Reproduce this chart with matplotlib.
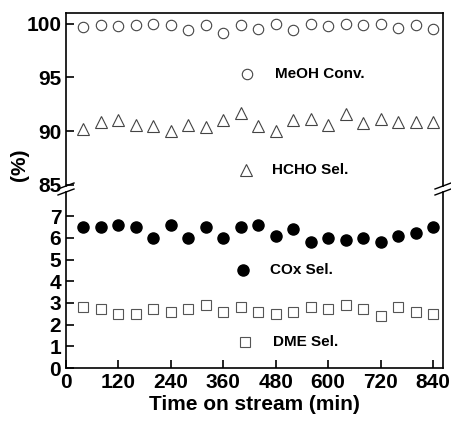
import numpy as np
import matplotlib
matplotlib.use("Agg")
import matplotlib.pyplot as plt
from matplotlib.lines import Line2D

plt.rcParams['font.family'] = ['Liberation Sans', 'DejaVu Sans']
plt.rcParams['font.weight'] = 'bold'

# time on stream (min)
time_min = [40, 80, 120, 160, 200, 240, 280, 320, 360, 400, 440,
            480, 520, 560, 600, 640, 680, 720, 760, 800, 840]

meoh_conv = [99.7, 99.9, 99.8, 99.9, 100.0, 99.9, 99.4, 99.9, 99.1, 99.9, 99.5,
             100.0, 99.4, 100.0, 99.8, 100.0, 99.9, 100.0, 99.6, 99.9, 99.5]
hcho_sel = [90.2, 90.9, 91.0, 90.6, 90.5, 90.0, 90.6, 90.4, 91.0, 91.7, 90.5,
            90.0, 91.0, 91.1, 90.6, 91.6, 90.8, 91.1, 90.9, 90.9, 90.9]
cox_sel = [6.5, 6.5, 6.6, 6.5, 6.0, 6.6, 6.0, 6.5, 6.0, 6.5, 6.6,
           6.1, 6.4, 5.8, 6.0, 5.9, 6.0, 5.8, 6.1, 6.2, 6.5]
dme_sel = [2.8, 2.7, 2.5, 2.5, 2.7, 2.6, 2.7, 2.9, 2.6, 2.8, 2.6,
           2.5, 2.6, 2.8, 2.7, 2.9, 2.7, 2.4, 2.8, 2.6, 2.5]

x_ticks = [0, 120, 240, 360, 480, 600, 720, 840]
upper_ticks = [85, 90, 95, 100]
lower_ticks = [0, 1, 2, 3, 4, 5, 6, 7]

W, H = 452, 422
fig = plt.figure(figsize=(W / 100, H / 100), dpi=100)

def px_axes(x0, y0, x1, y1):
    # pixel box (top-left origin) -> figure fraction
    return fig.add_axes([x0 / W, 1 - y1 / H, (x1 - x0) / W, (y1 - y0) / H])

ax_up = px_axes(66, 13, 443, 186)
ax_lo = px_axes(66, 192, 443, 368)

open_grey = '#444444'
sq_grey = '#555555'
circ_kw = dict(ms=7.5, mfc='none', mec=open_grey, mew=0.8)
tri_kw = dict(ms=8.5, mfc='none', mec=open_grey, mew=0.8)
dot_kw = dict(ms=8, mfc='black', mec='black')
sq_kw = dict(ms=7, mfc='none', mec=sq_grey, mew=0.8)

ax_up.plot(time_min, meoh_conv, 'o', ls='none', **circ_kw)
ax_up.plot(time_min, hcho_sel, '^', ls='none', **tri_kw)
ax_lo.plot(time_min, cox_sel, 'o', ls='none', **dot_kw)
ax_lo.plot(time_min, dme_sel, 's', ls='none', **sq_kw)

xmax = 840 * 377 / 367
for ax in (ax_up, ax_lo):
    ax.set_xlim(0, xmax)
    for s in ax.spines.values():
        s.set_linewidth(1.2)
    ax.tick_params(direction='in', length=6, width=1.2, labelsize=15,
                   right=False, top=False)

ax_up.set_ylim(84.9, 101.0)
ax_up.set_yticks(upper_ticks)
ax_up.spines['bottom'].set_visible(False)
ax_up.tick_params(bottom=False, labelbottom=False)

ax_lo.set_ylim(0, (368 - 192) / 21.7)
ax_lo.set_yticks(lower_ticks)
ax_lo.spines['top'].set_visible(False)
ax_lo.set_xticks(x_ticks)
ax_lo.set_xlabel('Time on stream (min)', fontsize=15, fontweight='bold', labelpad=2)

for lab in ax_up.get_yticklabels() + ax_lo.get_yticklabels() + ax_lo.get_xticklabels():
    lab.set_fontweight('bold')

fig.text(19 / W, 1 - 165 / H, '(%)', rotation=90, fontsize=15, fontweight='bold',
         ha='center', va='center')

# legend-like annotations
def key(ax, xm, ym, xt, marker, label, kw):
    ax.plot([xm], [ym], marker, transform=ax.transAxes, ls='none', clip_on=False, **kw)
    ax.text(xt, ym, label, transform=ax.transAxes, fontsize=11, fontweight='bold',
            va='center', ha='left')

key(ax_up, 0.48, 0.645, 0.554, 'o', 'MeOH Conv.', circ_kw)
key(ax_up, 0.477, 0.092, 0.546, '^', 'HCHO Sel.', tri_kw)
key(ax_lo, 0.469, 0.556, 0.541, 'o', 'COx Sel.', dot_kw)
key(ax_lo, 0.475, 0.146, 0.549, 's', 'DME Sel.', sq_kw)

# axis break marks
for xc in (66, 443):
    for yc in (186, 192):
        fig.add_artist(Line2D([(xc - 8) / W, (xc + 8) / W],
                              [1 - (yc + 3) / H, 1 - (yc - 3) / H],
                              color='black', lw=1.0))

fig.savefig('out.png', dpi=100)
